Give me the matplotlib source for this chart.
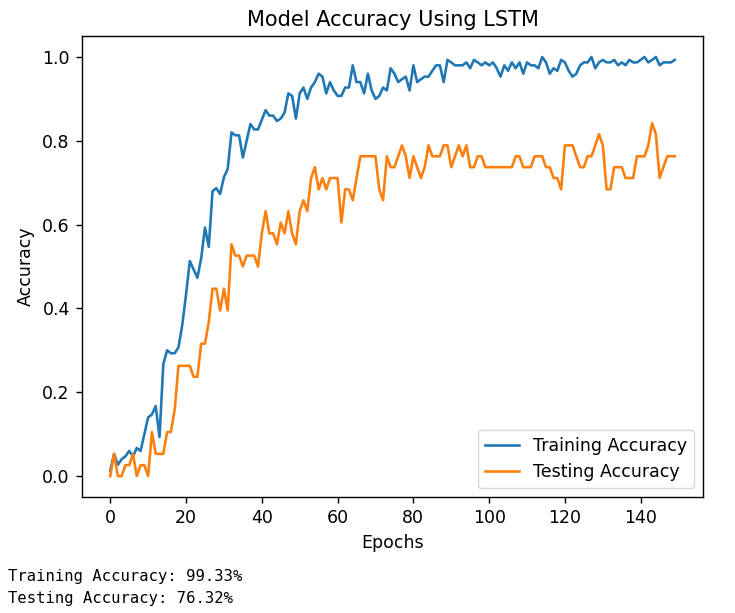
import matplotlib
matplotlib.use("Agg")
import matplotlib.pyplot as plt
import numpy as np

train_acc = [
    0.013, 0.053, 0.027, 0.040, 0.047, 0.060, 0.047, 0.067, 0.060, 0.100,   # 0-9
    0.140, 0.147, 0.167, 0.093, 0.267, 0.300, 0.293, 0.293, 0.307, 0.360,   # 10-19
    0.433, 0.513, 0.493, 0.473, 0.520, 0.593, 0.547, 0.680, 0.687, 0.673,   # 20-29
    0.713, 0.733, 0.820, 0.813, 0.813, 0.760, 0.800, 0.840, 0.827, 0.827,   # 30-39
    0.850, 0.873, 0.860, 0.860, 0.847, 0.853, 0.867, 0.913, 0.907, 0.853,   # 40-49
    0.913, 0.927, 0.900, 0.927, 0.940, 0.960, 0.953, 0.913, 0.940, 0.920,   # 50-59
    0.907, 0.907, 0.927, 0.927, 0.980, 0.940, 0.940, 0.913, 0.960, 0.920,   # 60-69
    0.900, 0.907, 0.927, 0.920, 0.973, 0.960, 0.940, 0.947, 0.953, 0.920,   # 70-79
    0.980, 0.940, 0.947, 0.953, 0.953, 0.967, 0.980, 0.980, 0.940, 0.993,   # 80-89
    0.987, 0.980, 0.980, 0.980, 0.987, 0.973, 0.993, 0.987, 0.980, 0.987,   # 90-99
    0.980, 0.987, 0.973, 0.953, 0.980, 0.967, 0.987, 0.973, 0.987, 0.960,   # 100-109
    0.987, 0.980, 0.980, 0.973, 1.000, 0.987, 0.960, 0.973, 0.967, 0.993,   # 110-119
    0.987, 0.967, 0.953, 0.960, 0.980, 0.987, 0.987, 1.000, 0.973, 0.987,   # 120-129
    0.993, 0.987, 0.987, 0.993, 0.980, 0.987, 0.980, 0.993, 0.987, 0.987,   # 130-139
    0.993, 1.000, 0.987, 0.993, 1.000, 0.980, 0.987, 0.987, 0.987, 0.993,   # 140-149
]

test_acc = [
    0.000, 0.053, 0.000, 0.000, 0.026, 0.026, 0.053, 0.000, 0.026, 0.026,   # 0-9
    0.000, 0.105, 0.053, 0.053, 0.053, 0.105, 0.105, 0.158, 0.263, 0.263,   # 10-19
    0.263, 0.263, 0.237, 0.237, 0.316, 0.316, 0.368, 0.447, 0.447, 0.395,   # 20-29
    0.447, 0.395, 0.553, 0.526, 0.526, 0.500, 0.526, 0.526, 0.526, 0.500,   # 30-39
    0.579, 0.632, 0.579, 0.579, 0.553, 0.605, 0.579, 0.632, 0.579, 0.553,   # 40-49
    0.632, 0.658, 0.632, 0.711, 0.737, 0.684, 0.711, 0.684, 0.711, 0.711,   # 50-59
    0.711, 0.605, 0.684, 0.684, 0.658, 0.711, 0.763, 0.763, 0.763, 0.763,   # 60-69
    0.763, 0.684, 0.658, 0.763, 0.737, 0.737, 0.763, 0.789, 0.763, 0.711,   # 70-79
    0.763, 0.737, 0.711, 0.737, 0.789, 0.763, 0.763, 0.763, 0.789, 0.789,   # 80-89
    0.737, 0.763, 0.789, 0.763, 0.789, 0.737, 0.737, 0.763, 0.763, 0.737,   # 90-99
    0.737, 0.737, 0.737, 0.737, 0.737, 0.737, 0.737, 0.763, 0.763, 0.737,   # 100-109
    0.737, 0.737, 0.763, 0.763, 0.763, 0.737, 0.737, 0.711, 0.711, 0.684,   # 110-119
    0.789, 0.789, 0.789, 0.763, 0.737, 0.737, 0.763, 0.763, 0.789, 0.816,   # 120-129
    0.789, 0.684, 0.684, 0.737, 0.737, 0.737, 0.711, 0.711, 0.711, 0.763,   # 130-139
    0.763, 0.763, 0.789, 0.842, 0.816, 0.711, 0.737, 0.763, 0.763, 0.763,   # 140-149
]

epochs = np.arange(len(train_acc))
title = "Model Accuracy Using LSTM"
xlabel = "Epochs"
ylabel = "Accuracy"
series_labels = ["Training Accuracy", "Testing Accuracy"]
summary_lines = ["Training Accuracy: 99.33%", "Testing Accuracy: 76.32%"]

fig = plt.figure(figsize=(7.35, 6.13), dpi=100)
ax = fig.add_axes([0.1116, 0.1892, 0.8449, 0.7521])
s = 1.25
ax.plot(epochs, train_acc, color="#1f77b4", lw=1.5 * s, label=series_labels[0])
ax.plot(epochs, test_acc, color="#ff7f0e", lw=1.5 * s, label=series_labels[1])
ax.set_title(title, fontsize=12 * s, pad=6 * s)
ax.set_xlabel(xlabel, fontsize=10 * s, labelpad=4 * s)
ax.set_ylabel(ylabel, fontsize=10 * s, labelpad=4 * s)
ax.tick_params(labelsize=10 * s, length=3.5 * s, width=0.8 * s, pad=3.5 * s)
for sp in ax.spines.values():
    sp.set_linewidth(0.8 * s)
ax.legend(loc="lower right", fontsize=10 * s, framealpha=0.8)

fig.text(8 / 735, 1 - 576 / 613, summary_lines[0], family="DejaVu Sans Mono",
         fontsize=11.2, va="center", ha="left")
fig.text(8 / 735, 1 - 598 / 613, summary_lines[1], family="DejaVu Sans Mono",
         fontsize=11.2, va="center", ha="left")

fig.savefig("out.png", dpi=100)
